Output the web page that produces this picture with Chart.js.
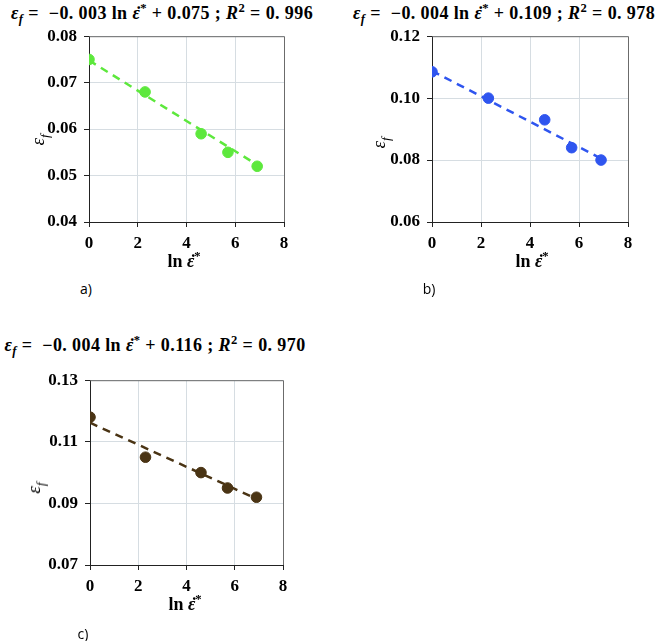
<!DOCTYPE html>
<html>
<head>
<meta charset="utf-8">
<script src="https://cdn.jsdelivr.net/npm/chart.js@4.4.1/dist/chart.umd.min.js"></script>
<style>
  body { margin: 0; background: #fff; }
  #page { position: relative; width: 663px; height: 641px; overflow: hidden; }
  .box { position: absolute; }
  .eq, .xt, .yt, .tag { position: absolute; white-space: pre; transform: translate(-50%, -50%); line-height: 1; }
  .eq { font: bold 18px "Liberation Serif", serif; letter-spacing: 0.4px; }
  .eq i { font-style: italic; }
  .xt { font: bold 18px "Liberation Serif", serif; }
  .yt { font: italic 19px "Liberation Serif", serif; transform: translate(-50%, -50%) rotate(-90deg); }
  .tag { font: 14px "Open Sans", "Noto Sans", sans-serif; }
  sub, sup { font-size: 70%; line-height: 0; }
  .dot { position: relative; display: inline-block; }
  .dot::after { content: "\02D9"; position: absolute; left: 0.18em; top: -0.02em; font-style: normal; }
</style>
</head>
<body>
<div id="page">
  <div class="eq" style="left:162px; top:13px;"><i>ε<sub>f</sub></i> =  −0. 003 ln <i class="dot">ε</i><sup>*</sup> + 0.075 ; <i>R</i><sup>2</sup> = 0. 996</div>
  <div class="eq" style="left:504px; top:13px;"><i>ε<sub>f</sub></i> =  −0. 004 ln <i class="dot">ε</i><sup>*</sup> + 0.109 ; <i>R</i><sup>2</sup> = 0. 978</div>
  <div class="eq" style="left:155px; top:345px;"><i>ε<sub>f</sub></i> =  −0. 004 ln <i class="dot">ε</i><sup>*</sup> + 0.116 ; <i>R</i><sup>2</sup> = 0. 970</div>

  <div class="box" style="left:30px; top:19px;"><canvas id="chartA" width="270" height="230"></canvas></div>
  <div class="box" style="left:373px; top:19px;"><canvas id="chartB" width="271" height="230"></canvas></div>
  <div class="box" style="left:31px; top:363px;"><canvas id="chartC" width="268" height="230"></canvas></div>

  <div class="yt" style="left:38px; top:140px;">ε<sub>f</sub></div>
  <div class="yt" style="left:379px; top:143px;">ε<sub>f</sub></div>
  <div class="yt" style="left:34px; top:488px;">ε<sub>f</sub></div>

  <div class="xt" style="left:184px; top:261px;">ln <i class="dot">ε</i><sup>*</sup></div>
  <div class="xt" style="left:532px; top:261px;">ln <i class="dot">ε</i><sup>*</sup></div>
  <div class="xt" style="left:185px; top:604px;">ln <i class="dot">ε</i><sup>*</sup></div>

  <div class="tag" style="left:86px; top:288px;">a)</div>
  <div class="tag" style="left:429px; top:288px;">b)</div>
  <div class="tag" style="left:83px; top:633px;">c)</div>
</div>

<script>
// strain rate (ln) for every test
const lnRate = [0, 2.3, 4.6, 5.7, 6.9];

// fracture strain
const strainA = [0.075, 0.068, 0.059, 0.055, 0.052];
const strainB = [0.1085, 0.100, 0.093, 0.084, 0.080];
const strainC = [0.118, 0.105, 0.100, 0.095, 0.092];

// dashed trend line ends
const fitX = [0, 6.9];
const fitA = [0.0748, 0.0523];
const fitB = [0.1088, 0.0805];
const fitC = [0.1162, 0.0915];

// y axis ranges [min, max, step]
const yRangeA = [0.04, 0.08, 0.01];
const yRangeB = [0.06, 0.12, 0.02];
const yRangeC = [0.07, 0.13, 0.02];

const xTicks = [0, 2, 4, 6, 8];

const tickFont = { family: "Liberation Serif", size: 17, weight: "bold" };

// box border on top and right side
const frame = {
  id: "frame",
  afterDraw(chart) {
    const a = chart.chartArea;
    const ctx = chart.ctx;
    ctx.save();
    ctx.strokeStyle = "#6b6b6b";
    ctx.lineWidth = 1;
    ctx.beginPath();
    ctx.moveTo(a.left, a.top + 0.5);
    ctx.lineTo(a.right + 0.5, a.top + 0.5);
    ctx.lineTo(a.right + 0.5, a.bottom);
    ctx.stroke();
    ctx.restore();
  },
};

function pts(xs, ys) {
  return xs.map((x, i) => ({ x: x, y: ys[i] }));
}

function makeChart(id, strain, fit, range, color, xHeight) {
  const ctx = document.getElementById(id).getContext("2d");
  return new Chart(ctx, {
    type: "scatter",
    data: {
      datasets: [
        {
          data: pts(fitX, fit),
          showLine: true,
          borderColor: color,
          borderWidth: 2.5,
          borderDash: [8, 6],
          pointRadius: 0,
          order: 2,
        },
        {
          data: pts(lnRate, strain),
          backgroundColor: color,
          borderColor: color,
          pointRadius: 5.3,
          order: 1,
        },
      ],
    },
    options: {
      responsive: false,
      animation: false,
      layout: { padding: { top: 5, right: 16, left: 0, bottom: 0 } },
      plugins: { legend: { display: false }, tooltip: { enabled: false } },
      scales: {
        x: {
          type: "linear",
          min: 0,
          max: 8,
          afterBuildTicks: (s) => { s.ticks = xTicks.map((v) => ({ value: v })); },
          afterFit: (s) => { s.height = xHeight; },
          grid: { color: "#d6dde2", tickColor: "#222", tickLength: 5 },
          border: { color: "#222", width: 1 },
          ticks: { font: tickFont, color: "#000", padding: 6, maxRotation: 0 },
        },
        y: {
          min: range[0],
          max: range[1],
          afterFit: (s) => { s.width = 59; },
          grid: { color: "#d6dde2", tickColor: "#222", tickLength: 5 },
          border: { color: "#222", width: 1 },
          ticks: {
            stepSize: range[2],
            font: tickFont,
            color: "#000",
            padding: 7,
            callback: (v) => v.toFixed(2),
          },
        },
      },
    },
    plugins: [frame],
  });
}

makeChart("chartA", strainA, fitA, yRangeA, "#5de83c", 27);
makeChart("chartB", strainB, fitB, yRangeB, "#2f55ef", 27);
makeChart("chartC", strainC, fitC, yRangeC, "#4a3414", 28);
</script>
</body>
</html>
